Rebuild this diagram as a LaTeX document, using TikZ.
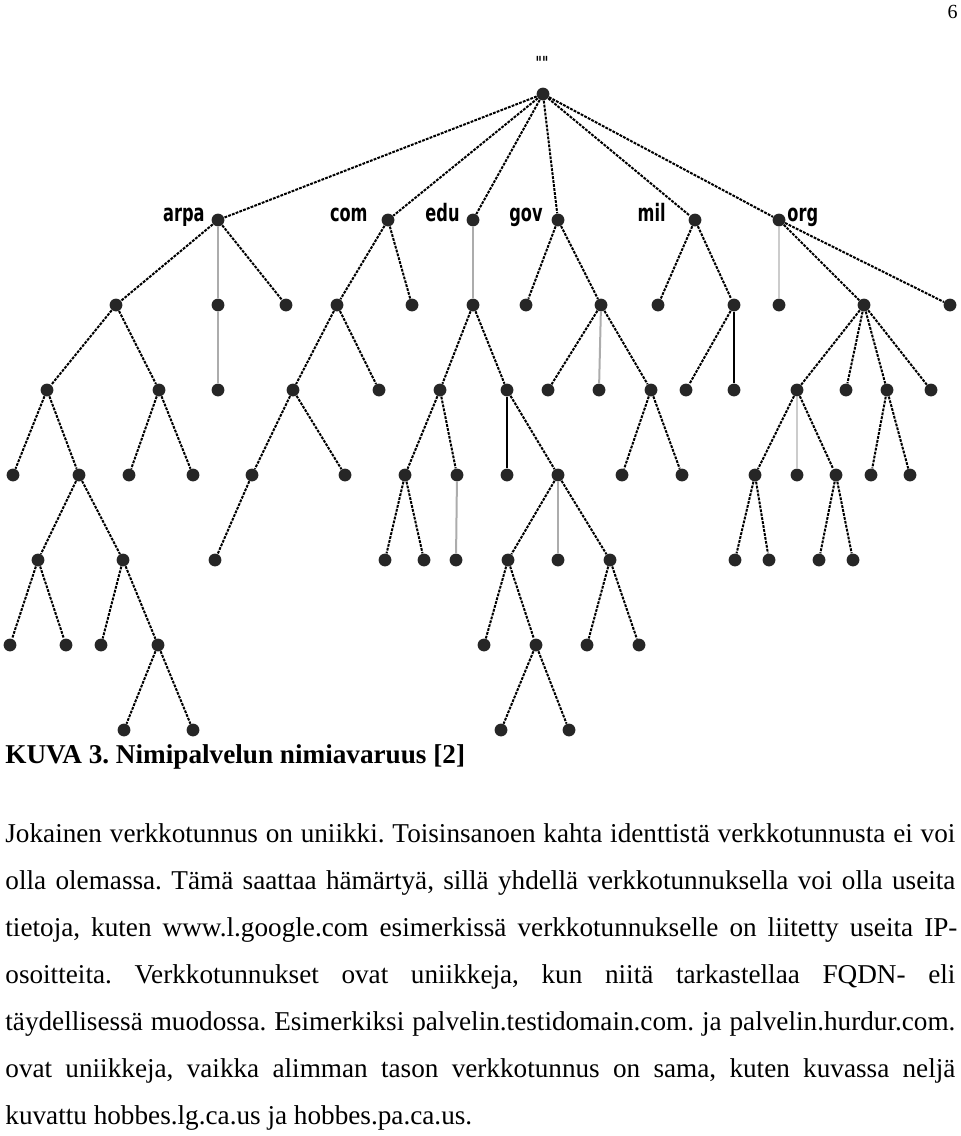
\documentclass[tikz,border=0pt]{standalone}
\usepackage{fontspec}
\setmainfont{Liberation Serif}
\newfontfamily\tldfont[FakeStretch=0.75]{DejaVu Sans Condensed}
\frenchspacing

\begin{document}
\begin{tikzpicture}[x=0.5pt,y=-0.5pt,
  dot/.style={circle,fill=black!85,inner sep=0pt,minimum size=6.4pt},
  link/.style={black,line width=1pt,dash pattern=on 1.4pt off 0.6pt},
  greylink/.style={gray!65,line width=1pt},
  palelink/.style={gray!40,line width=0.7pt},
  blacklink/.style={black,line width=1.2pt},
  tld/.style={font=\tldfont\bfseries\fontsize{12}{12}\selectfont,inner sep=0pt},
  para/.style={font=\fontsize{13.6}{16}\selectfont,inner sep=0pt,anchor=base west}]
\useasboundingbox (0,0) rectangle (960,1136);
\node[font=\fontsize{10}{10}\selectfont,inner sep=0pt,anchor=base east] (page) at (958,18) {6};

\node[dot] (root) at (543,94) {};
\node[tld,font=\tldfont\bfseries\itshape\fontsize{9}{9}\selectfont] (roottxt) at (542,63) {""};
\node[dot] (arpa) at (218,220) {};
\node[dot] (com) at (388,220) {};
\node[dot] (edu) at (473,220) {};
\node[dot] (gov) at (558,220) {};
\node[dot] (mil) at (695,220) {};
\node[dot] (org) at (779,220) {};
\node[tld,anchor=base east] (arpatxt) at (205,221) {arpa};
\node[tld,anchor=base east] (comtxt) at (368,221) {com};
\node[tld,anchor=base east] (edutxt) at (460,221) {edu};
\node[tld,anchor=base east] (govtxt) at (543,221) {gov};
\node[tld,anchor=base east] (miltxt) at (666,221) {mil};
\node[tld,anchor=base west] (orgtxt) at (787,221) {org};

\foreach \x in {116,218,286,337,412,473,526,601,658,734,779,864,950}
  \node[dot] (b\x) at (\x,305) {};
\foreach \x in {47,159,218,293,379,440,507,548,599,651,686,734,797,846,887,931}
  \node[dot] (c\x) at (\x,390) {};
\foreach \x in {13,79,129,193,252,345,405,457,507,558,622,682,755,797,836,871,910}
  \node[dot] (d\x) at (\x,475) {};
\foreach \x in {38,123,215,385,424,456,508,558,610,735,769,819,853}
  \node[dot] (e\x) at (\x,560) {};
\foreach \x in {10,66,101,158,484,536,587,639}
  \node[dot] (f\x) at (\x,645) {};
\foreach \x in {124,193,501,569}
  \node[dot] (g\x) at (\x,730) {};

\foreach \a/\b in {root/arpa,root/com,root/edu,root/gov,root/mil,root/org,
  arpa/b116,arpa/b286,com/b337,com/b412,gov/b526,gov/b601,mil/b658,mil/b734,org/b864,org/b950,
  b116/c47,b116/c159,b337/c293,b337/c379,b473/c440,b473/c507,b601/c548,b601/c651,b734/c686,
  b864/c797,b864/c846,b864/c887,b864/c931,
  c47/d13,c47/d79,c159/d129,c159/d193,c293/d252,c293/d345,c440/d405,c440/d457,c507/d558,
  c651/d622,c651/d682,c797/d755,c797/d836,c887/d871,c887/d910,
  d79/e38,d79/e123,d252/e215,d405/e385,d405/e424,d558/e508,d558/e610,d755/e735,d755/e769,
  d836/e819,d836/e853,
  e38/f10,e38/f66,e123/f101,e123/f158,e508/f484,e508/f536,e610/f587,e610/f639,
  f158/g124,f158/g193,f536/g501,f536/g569}
  \draw[link] (\a) -- (\b);
\foreach \a/\b in {arpa/b218,b218/c218,edu/b473,b601/c599,d457/e456,d558/e558}
  \draw[greylink] (\a) -- (\b);
\foreach \a/\b in {org/b779,c797/d797}
  \draw[palelink] (\a) -- (\b);
\foreach \a/\b in {b734/c734,c507/d507}
  \draw[blacklink] (\a) -- (\b);

\node[para] (caption) at (5,763) {\bfseries KUVA 3. Nimipalvelun nimiavaruus [2]};
\node[para] (line1) at (5,842) {\makebox[475pt][s]{Jokainen verkkotunnus on uniikki. Toisinsanoen kahta identtistä verkkotunnusta ei voi}};
\node[para] (line2) at (5,889) {\makebox[475pt][s]{olla olemassa. Tämä saattaa hämärtyä, sillä yhdellä verkkotunnuksella voi olla useita}};
\node[para] (line3) at (5,936) {\makebox[476pt][s]{tietoja, kuten www.l.google.com esimerkissä verkkotunnukselle on liitetty useita IP-}};
\node[para] (line4) at (5,983) {\makebox[475pt][s]{osoitteita. Verkkotunnukset ovat uniikkeja, kun niitä tarkastellaa FQDN- eli}};
\node[para] (line5) at (5,1030) {\makebox[475pt][s]{täydellisessä muodossa. Esimerkiksi palvelin.testidomain.com. ja palvelin.hurdur.com.}};
\node[para] (line6) at (5,1077) {\makebox[475pt][s]{ovat uniikkeja, vaikka alimman tason verkkotunnus on sama, kuten kuvassa neljä}};
\node[para] (line7) at (5,1124) {kuvattu hobbes.lg.ca.us ja hobbes.pa.ca.us.};
\end{tikzpicture}
\end{document}
